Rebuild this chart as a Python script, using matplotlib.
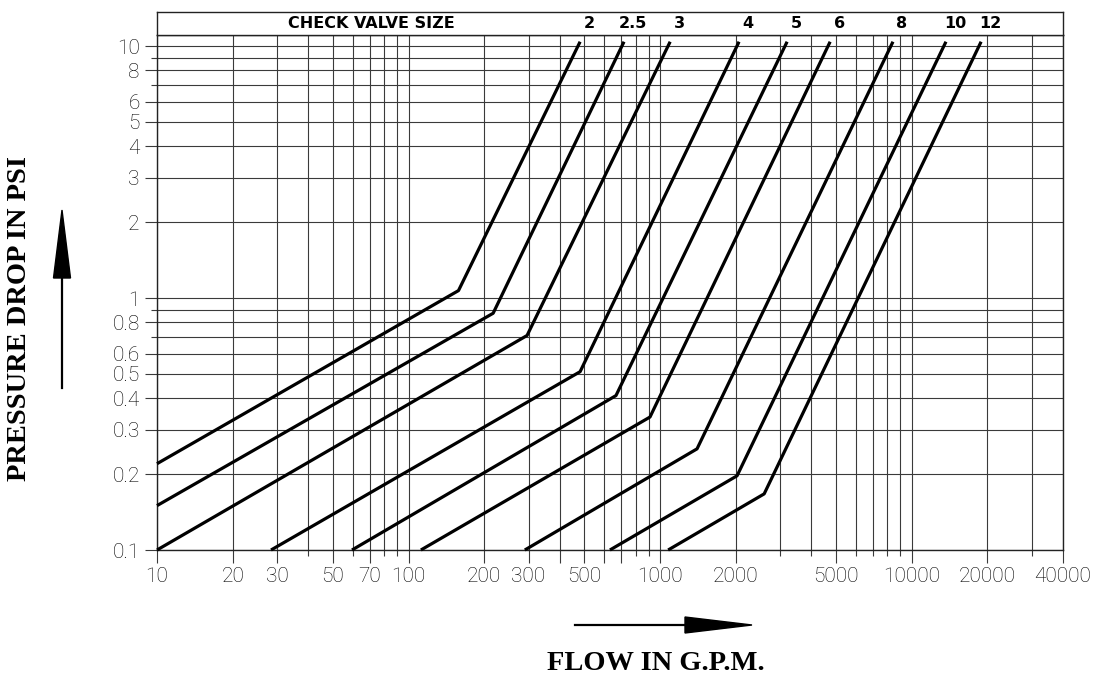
import numpy as np
import matplotlib
matplotlib.use("Agg")
import matplotlib.pyplot as plt
from matplotlib.patches import Polygon
from matplotlib.lines import Line2D
from matplotlib.transforms import ScaledTranslation

# valve sizes and the three corner points of each pressure-drop curve
sizes = ["2", "2.5", "3", "4", "5", "6", "8", "10", "12"]
start_flow = [10, 10, 10, 28.4, 59.6, 112, 290, 632, 1077]
start_dp = [0.22, 0.15, 0.1, 0.1, 0.1, 0.1, 0.1, 0.1, 0.1]
knee_flow = [158, 217, 296, 481, 668, 912, 1403, 2024, 2594]
knee_dp = [1.07, 0.87, 0.71, 0.51, 0.41, 0.337, 0.252, 0.197, 0.167]
top_flow = [481, 719, 1097, 2061, 3200, 4745, 8434, 13700, 18900]
top_dp = [10.4] * 9

x_labeled = [10, 20, 30, 50, 70, 100, 200, 300, 500, 1000, 2000, 5000, 10000, 20000, 40000]
x_long = [400, 600, 700]
x_short = [40, 60, 80, 90, 800, 900, 3000, 4000, 6000, 7000, 8000, 9000, 30000]
y_labeled = [0.1, 0.2, 0.3, 0.4, 0.5, 0.6, 0.8, 1, 2, 3, 4, 5, 6, 8, 10]
y_short = [0.7, 0.9, 7, 9]

W, H = 1098, 678


def fx(px):
    return px / W


def fy(py):
    return 1 - py / H


fig = plt.figure(figsize=(W / 100, H / 100), dpi=100)
ax = fig.add_axes([fx(157), fy(550), fx(1063) - fx(157), fy(35) - fy(550)])
ax.set_xscale("log")
ax.set_yscale("log")
ax.set_xlim(10, 40000)
ax.set_ylim(0.1, 10 ** (1 + 11 / 252))

grid_c = "#3a3a3a"
tick_font = dict(family=["Roboto", "DejaVu Sans"], size=15, weight="light")

# gridlines
for v in x_labeled + x_long + x_short:
    ax.axvline(v, color=grid_c, lw=0.8, zorder=1)
for v in y_labeled + y_short:
    ax.axhline(v, color=grid_c, lw=0.8, zorder=1)

ax.set_xticks(x_labeled + x_long)
ax.set_xticklabels([str(v) for v in x_labeled] + [""] * len(x_long), fontdict=tick_font)
ax.set_xticks(x_short, minor=True)
ax.set_xticklabels([], minor=True)
ax.set_yticks(y_labeled)
ax.set_yticklabels([f"{v:g}" for v in y_labeled], fontdict=tick_font)
ax.set_yticks(y_short, minor=True)
ax.set_yticklabels([], minor=True)
ax.tick_params(which="major", length=9, width=0.8, color=grid_c, labelcolor="black", pad=3.5)
ax.tick_params(which="minor", length=4, width=0.8, color=grid_c)
for s in ax.spines.values():
    s.set_color("#222222")
    s.set_linewidth(1.0)

# curves
for i in range(len(sizes)):
    ax.plot([start_flow[i], knee_flow[i], top_flow[i]],
            [start_dp[i], knee_dp[i], top_dp[i]],
            color="black", lw=2.3, solid_capstyle="butt", zorder=3, clip_on=False)

# header box with valve sizes
hx = fig.add_axes([fx(157), fy(35), fx(1063) - fx(157), fy(12) - fy(35)])
hx.set_xscale("log")
hx.set_xlim(10, 40000)
hx.set_ylim(0, 1)
hx.set_xticks([])
hx.set_yticks([])
hx.minorticks_off()
for s in hx.spines.values():
    s.set_color("#222222")
    s.set_linewidth(1.0)
head_font = dict(family="DejaVu Sans", size=11.5, weight="bold")
hx.text(0.237, 0.5, "CHECK VALVE SIZE", transform=hx.transAxes, ha="center", va="center", **head_font)
off = ScaledTranslation(9 / 100, 0, fig.dpi_scale_trans)
for i, s in enumerate(sizes):
    hx.text(top_flow[i], 0.5, s, transform=hx.transData + off, ha="center", va="center", **head_font)

# axis titles with arrows
lab_font = dict(family="Liberation Serif", size=20.5, weight="bold")
fig.text(fx(20), fy(318), "PRESSURE DROP IN PSI", rotation=90, ha="center", va="center", **lab_font)
fig.text(fx(656), fy(663), "FLOW IN G.P.M.", ha="center", va="center", **lab_font)

fig.add_artist(Line2D([fx(62), fx(62)], [fy(388), fy(270)], color="black", lw=1.6))
fig.add_artist(Polygon([(fx(62), fy(210)), (fx(53.5), fy(278)), (fx(70.5), fy(278))],
                       closed=True, color="black", transform=fig.transFigure))
fig.add_artist(Line2D([fx(575), fx(690)], [fy(625), fy(625)], color="black", lw=1.6))
fig.add_artist(Polygon([(fx(752), fy(625)), (fx(685), fy(617)), (fx(685), fy(633))],
                       closed=True, color="black", transform=fig.transFigure))

fig.savefig("out.png", dpi=100)
